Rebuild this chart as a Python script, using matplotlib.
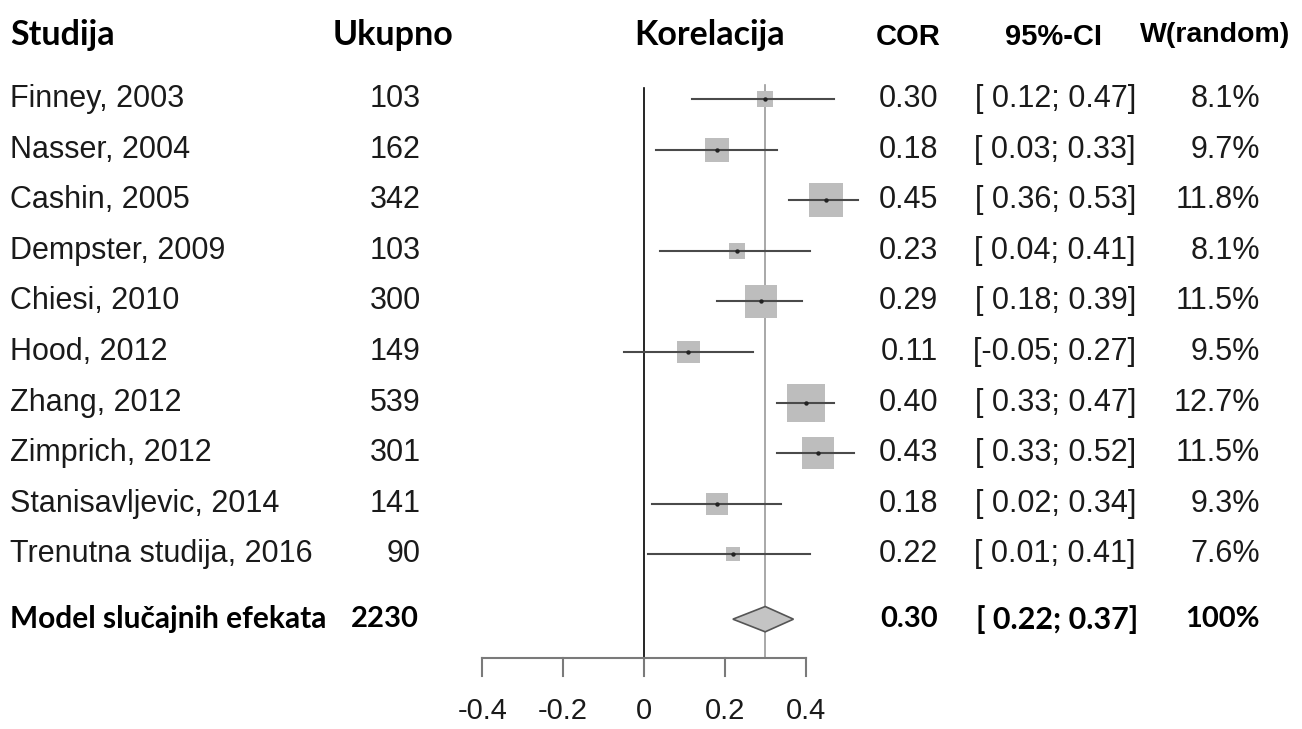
import numpy as np
import matplotlib.pyplot as plt

studies = ["Finney, 2003", "Nasser, 2004", "Cashin, 2005", "Dempster, 2009",
           "Chiesi, 2010", "Hood, 2012", "Zhang, 2012", "Zimprich, 2012",
           "Stanisavljevic, 2014", "Trenutna studija, 2016"]
totals = [103, 162, 342, 103, 300, 149, 539, 301, 141, 90]
cor = [0.30, 0.18, 0.45, 0.23, 0.29, 0.11, 0.40, 0.43, 0.18, 0.22]
lower = [0.12, 0.03, 0.36, 0.04, 0.18, -0.05, 0.33, 0.33, 0.02, 0.01]
upper = [0.47, 0.33, 0.53, 0.41, 0.39, 0.27, 0.47, 0.52, 0.34, 0.41]
weights = [8.1, 9.7, 11.8, 8.1, 11.5, 9.5, 12.7, 11.5, 9.3, 7.6]

pooled_label = "Model slučajnih efekata"
pooled_total = 2230
pooled_cor = 0.30
pooled_lower = 0.22
pooled_upper = 0.37
pooled_weight = "100%"

tick_values = [-0.4, -0.2, 0, 0.2, 0.4]
tick_labels = ["-0.4", "-0.2", "0", "0.2", "0.4"]

W, H = 1302, 729
fig = plt.figure(figsize=(W / 100, H / 100), dpi=100)
ax = fig.add_axes([0, 0, 1, 1])
ax.axis("off")

# pixel geometry of the original: x=0 at 644px, 0.1 per 40.4px; rows 50.6px apart
x0, xs = 644, 404
y0, ys = 99, 50.6
ax.set_xlim((0 - x0) / xs, (W - x0) / xs)
ax.set_ylim((H - y0) / ys, (0 - y0) / ys)

n = len(studies)
rows = np.arange(n)
pooled_row = 10.28
header_row = -1.27
axis_row = 11.05
label_row = 12.1

arial = "Liberation Sans"
calibri = "Lato"
fs = 22
gray = "#7a7a7a"
ink = "#1a1a1a"

tx = ax.get_yaxis_transform()
def px(p):
    return p / W

# headers
for xp, lab in [(10, "Studija"), (393, "Ukupno"), (710, "Korelacija")]:
    ax.text(px(xp), header_row, lab, transform=tx, family=calibri, weight="bold",
            fontsize=24.5, ha="left" if xp == 10 else "center", va="center")
ax.text(px(908), header_row + 0.05, "COR", transform=tx, family=arial, weight="bold",
        fontsize=21, ha="center", va="center")
ax.text(px(1053), header_row + 0.05, "95%-CI", transform=tx, family=arial, weight="bold",
        fontsize=21, ha="center", va="center")
ax.text(px(1215), header_row, "W(random)", transform=tx, family=arial, weight="bold",
        fontsize=20.5, ha="center", va="center")

# reference lines
ax.plot([0, 0], [-0.22, axis_row], color="black", lw=1.2)
ax.plot([pooled_cor, pooled_cor], [-0.28, axis_row], color="#9a9a9a", lw=1.2)

# study rows
side = 14 + (np.array(weights) - min(weights)) / (max(weights) - min(weights)) * 24
for i in range(n):
    ax.plot([lower[i], upper[i]], [rows[i], rows[i]], color="#4a4a4a", lw=1.5, zorder=4)
    ax.text(px(10), rows[i], studies[i], transform=tx, family=arial, fontsize=fs,
            ha="left", va="center", color=ink)
    ax.text(px(421), rows[i], str(totals[i]), transform=tx, family=arial, fontsize=fs,
            ha="right", va="center", color=ink)
    ax.text(px(938), rows[i], f"{cor[i]:.2f}", transform=tx, family=arial, fontsize=fs,
            ha="right", va="center", color=ink)
    lo = f"{lower[i]:.2f}" if lower[i] < 0 else f" {lower[i]:.2f}"
    ax.text(px(1136), rows[i], f"[{lo}; {upper[i]:.2f}]", transform=tx, family=arial,
            fontsize=fs, ha="right", va="center", color=ink)
    ax.text(px(1260), rows[i], f"{weights[i]:.1f}%", transform=tx, family=arial,
            fontsize=fs, ha="right", va="center", color=ink)

ax.scatter(cor, rows, s=(side * 0.72) ** 2, marker="s", color="#bdbdbd", lw=0, zorder=3)
ax.scatter(cor, rows, s=10, marker="o", color="#222222", lw=0, zorder=5)

# pooled estimate
dh = 0.25
ax.fill([pooled_lower, pooled_cor, pooled_upper, pooled_cor],
        [pooled_row, pooled_row - dh, pooled_row, pooled_row + dh],
        facecolor="#c4c4c4", edgecolor="#555555", lw=1.2, zorder=3)
ax.text(px(10), pooled_row, pooled_label, transform=tx, family=calibri, weight="bold",
        fontsize=21.5, ha="left", va="center")
ax.text(px(419), pooled_row, str(pooled_total), transform=tx, family=calibri, weight="bold",
        fontsize=21, ha="right", va="center")
ax.text(px(938), pooled_row, f"{pooled_cor:.2f}", transform=tx, family=calibri,
        weight="bold", fontsize=21, ha="right", va="center")
ax.text(px(1138), pooled_row, f"[ {pooled_lower:.2f}; {pooled_upper:.2f}]", transform=tx,
        family=calibri, weight="bold", fontsize=22, ha="right", va="center")
ax.text(px(1260), pooled_row, pooled_weight, transform=tx, family=calibri, weight="bold",
        fontsize=21, ha="right", va="center")

# x axis
ax.plot([tick_values[0], tick_values[-1]], [axis_row, axis_row], color=gray, lw=1.5)
for v, lab in zip(tick_values, tick_labels):
    ax.plot([v, v], [axis_row, axis_row + 0.36], color=gray, lw=1.5)
    ax.text(v, label_row, lab, family=arial, fontsize=21, ha="center", va="center",
            color=ink)

fig.savefig("out.png", dpi=100)
